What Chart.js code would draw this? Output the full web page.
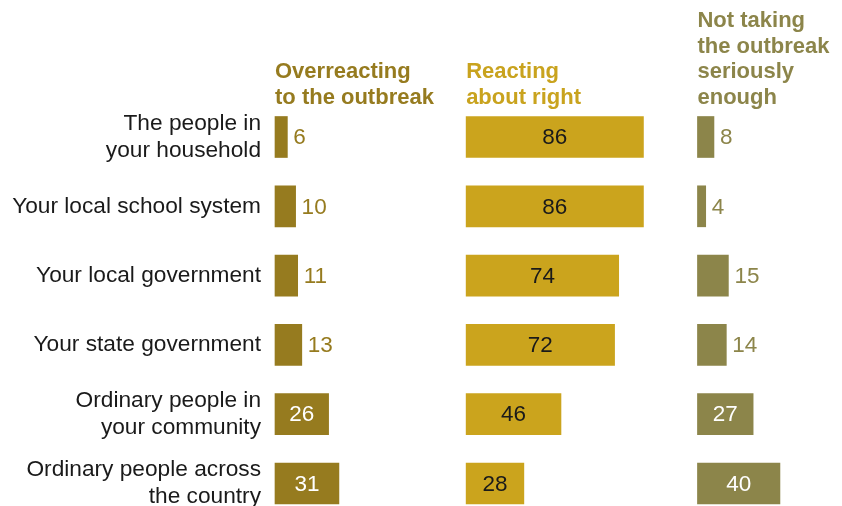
<!DOCTYPE html>
<html>
<head>
<meta charset="utf-8">
<script src="https://cdn.jsdelivr.net/npm/chart.js@4"></script>
<style>
  html, body { margin: 0; padding: 0; background: #ffffff; }
  #wrap { width: 842px; height: 506px; position: relative; }
</style>
</head>
<body>
<div id="wrap"><canvas id="c" width="842" height="506"></canvas></div>
<script>
// ---- data ----
const categories = [
  ['The people in', 'your household'],
  'Your local school system',
  'Your local government',
  'Your state government',
  ['Ordinary people in', 'your community'],
  ['Ordinary people across', 'the country']
];
const overreacting = [6, 10, 11, 13, 26, 31];
const aboutRight = [86, 86, 74, 72, 46, 28];
const notSerious = [8, 4, 15, 14, 27, 40];
const headers = [
  ['Overreacting', 'to the outbreak'],
  ['Reacting', 'about right'],
  ['Not taking', 'the outbreak', 'seriously', 'enough']
];

// ---- layout / style ----
const panelBase = [0, 92.7, 204.9];          // x-scale offset of each panel
const barColors = ['#967B1F', '#CBA41D', '#8C854A'];
const headColors = ['#967B1F', '#C9A31E', '#8C854A'];
const insideText = ['#ffffff', '#1a1a1a', '#ffffff'];
const FONT = '"Liberation Sans", Arial, sans-serif';

const series = [overreacting, aboutRight, notSerious];
const datasets = series.map((vals, p) => ({
  data: vals.map(v => [panelBase[p], panelBase[p] + v]),
  raw: vals,
  backgroundColor: barColors[p],
  barThickness: 41,
  grouped: false,
  clip: false
}));

const labelPlugin = {
  id: 'labels',
  afterDatasetsDraw(chart) {
    const ctx = chart.ctx;
    ctx.save();
    ctx.font = '22.5px ' + FONT;
    ctx.textBaseline = 'middle';
    chart.data.datasets.forEach((ds, p) => {
      const meta = chart.getDatasetMeta(p);
      meta.data.forEach((bar, i) => {
        const v = ds.raw[i];
        const left = Math.min(bar.x, bar.base);
        const right = Math.max(bar.x, bar.base);
        const inside = p === 1 || v >= 20;
        if (inside) {
          ctx.fillStyle = insideText[p];
          ctx.textAlign = 'center';
          ctx.fillText(String(v), (left + right) / 2, bar.y + 1);
        } else {
          ctx.fillStyle = barColors[p];
          ctx.textAlign = 'left';
          ctx.fillText(String(v), right + 6, bar.y + 1);
        }
      });
    });
    ctx.restore();
  }
};

const headerPlugin = {
  id: 'headers',
  afterDraw(chart) {
    const ctx = chart.ctx;
    const xs = chart.scales.x;
    ctx.save();
    ctx.font = 'bold 22px ' + FONT;
    ctx.textAlign = 'left';
    ctx.textBaseline = 'alphabetic';
    const lastBaseline = 104;
    const lh = 25.7;
    headers.forEach((lines, p) => {
      const x = xs.getPixelForValue(panelBase[p]);
      ctx.fillStyle = headColors[p];
      lines.forEach((t, k) => {
        const y = lastBaseline - (lines.length - 1 - k) * lh;
        ctx.fillText(t, x, y);
      });
    });
    ctx.restore();
  }
};

new Chart(document.getElementById('c'), {
  type: 'bar',
  data: { labels: categories, datasets },
  options: {
    indexAxis: 'y',
    responsive: false,
    animation: false,
    events: [],
    layout: { padding: { top: 137, bottom: 22.5, left: 0, right: 0 } },
    plugins: { legend: { display: false }, tooltip: { enabled: false } },
    scales: {
      x: {
        type: 'linear',
        display: false,
        min: 0,
        max: 275
      },
      y: {
        offset: false,
        grid: { display: false, drawTicks: false },
        border: { display: false },
        afterFit(s) { s.width = 275; s.paddingTop = 0; s.paddingBottom = 0; },
        ticks: {
          padding: 14,
          color: '#1a1a1a',
          font: { family: FONT, size: 22.7, lineHeight: 1.18 }
        }
      }
    }
  },
  plugins: [labelPlugin, headerPlugin]
});
</script>
</body>
</html>
